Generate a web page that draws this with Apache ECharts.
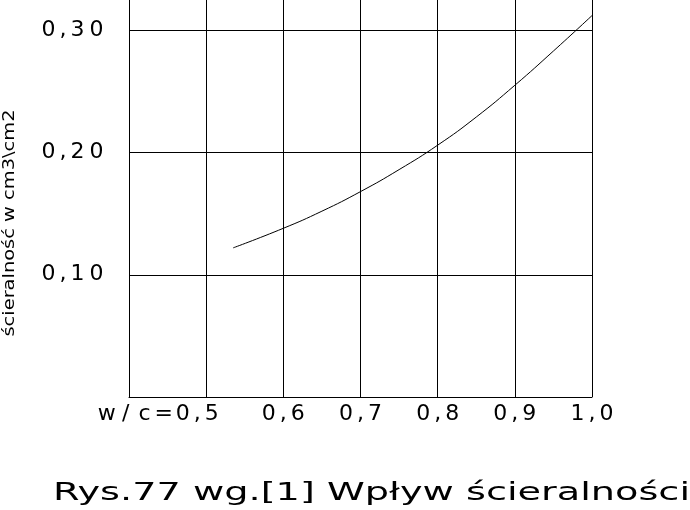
<!DOCTYPE html>
<html>
<head>
<meta charset="utf-8">
<script src="https://cdn.jsdelivr.net/npm/echarts@6/dist/echarts.min.js"></script>
<style>html,body{margin:0;padding:0;background:#fff;}#c{width:690px;height:510px;}</style>
</head>
<body>
<div id="c"></div>
<script>
// ---- data ----
const wcValues = [0.535, 0.6, 0.65, 0.7, 0.75, 0.8, 0.85, 0.9, 0.95, 1.0];
const abrasion = [0.122, 0.138, 0.152, 0.168, 0.186, 0.206, 0.229, 0.255, 0.283, 0.312];
const xTickValues = [0.4, 0.5, 0.6, 0.7, 0.8, 0.9, 1.0];
const xTickLabels = ['', 'w/c=0,5', '0,6', '0,7', '0,8', '0,9', '1,0'];
const yTickValues = [0, 0.1, 0.2, 0.3, 0.4];
const yTickLabels = ['', '0,10', '0,20', '0,30', ''];
const yAxisName = 'ścieralność w cm3\\cm2';
const titleText = 'Rys.77 wg.[1] Wpływ ścieralności';

const FONT = 'DejaVu Sans';
const TICK_SIZE = 22;

function spaced(s) {
  return s.split('').map(function (ch) {
    return ch === ',' ? '{k|,}' : '{d|' + ch + '}';
  }).join('');
}
function findLabel(vals, labels, v) {
  for (let i = 0; i < vals.length; i++) if (Math.abs(vals[i] - v) < 1e-6) return labels[i];
  return '';
}
const richBase = {
  d: {width: 19, align: 'center', fontSize: TICK_SIZE, fontFamily: FONT, color: '#000'},
  k: {width: 10, align: 'center', fontSize: TICK_SIZE, fontFamily: FONT, color: '#000'},
  g: {width: 94, fontSize: TICK_SIZE, fontFamily: FONT, color: '#000'}
};

function measure(text, size) {
  const cv = document.createElement('canvas').getContext('2d');
  cv.font = size + 'px "' + FONT + '"';
  return cv.measureText(text).width;
}
const titleSize = 24, nameSize = 15;
const titleScale = 637 / measure(titleText, titleSize);
const nameScale = 227 / measure(yAxisName, nameSize);

const chart = echarts.init(document.getElementById('c'), null, {renderer: 'canvas'});
chart.setOption({
  animation: false,
  backgroundColor: '#fff',
  grid: {left: 129, right: 98, top: -92, bottom: 113, outerBoundsMode: 'none', containLabel: false},
  xAxis: {
    type: 'value', min: 0.4, max: 1.0, interval: 0.1,
    axisLine: {show: true, lineStyle: {color: '#000', width: 1}},
    axisTick: {show: false},
    splitLine: {show: true, lineStyle: {color: '#000', width: 1}},
    axisLabel: {
      margin: 6, fontSize: TICK_SIZE, fontFamily: FONT, color: '#000',
      formatter: function (v) {
        const s = findLabel(xTickValues, xTickLabels, v);
        if (!s) return '';
        return spaced(s) + (s.length > 3 ? '{g| }' : '');
      },
      rich: richBase
    }
  },
  yAxis: {
    type: 'value', min: 0, max: 0.4, interval: 0.1,
    axisLine: {show: true, lineStyle: {color: '#000', width: 1}},
    axisTick: {show: false},
    splitLine: {show: true, lineStyle: {color: '#000', width: 1}},
    axisLabel: {
      margin: 23, fontSize: TICK_SIZE, fontFamily: FONT, color: '#000',
      formatter: function (v) {
        const s = findLabel(yTickValues, yTickLabels, v);
        return s ? spaced(s) : '';
      },
      rich: richBase
    }
  },
  graphic: [
    {
      type: 'text', x: 10, y: 223, rotation: Math.PI / 2, scaleX: nameScale,
      style: {text: yAxisName, fontSize: nameSize, fontFamily: FONT, fill: '#000', align: 'center', verticalAlign: 'middle'}
    },
    {
      type: 'text', x: 53, y: 494, scaleX: titleScale,
      style: {text: titleText, fontSize: titleSize, fontFamily: FONT, fill: '#000', align: 'left', verticalAlign: 'middle'}
    }
  ],
  series: [{
    type: 'line', smooth: true, symbol: 'none',
    lineStyle: {color: '#000', width: 1},
    data: wcValues.map(function (x, i) { return [x, abrasion[i]]; })
  }]
});
</script>
</body>
</html>
